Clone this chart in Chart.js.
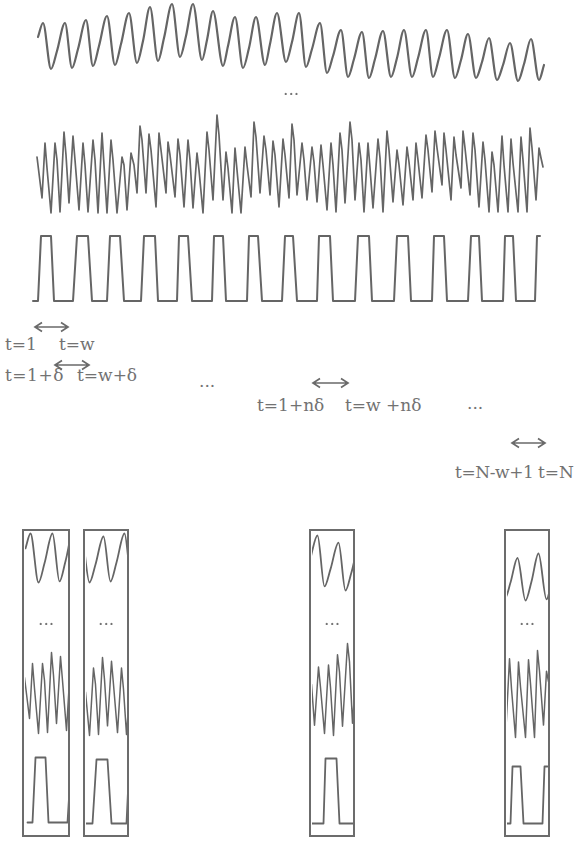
<!DOCTYPE html>
<html>
<head>
<meta charset="utf-8">
<script src="https://cdn.jsdelivr.net/npm/chart.js@4.4.1/dist/chart.umd.min.js"></script>
<style>
  body { margin: 0; background: #fff; }
  #page { position: relative; width: 579px; height: 841px; overflow: hidden; }
  #page canvas, .lbl, .box, #marks { position: absolute; }
  .lbl { font-family: 'DejaVu Serif'; font-size: 17px; line-height: 17px; color: #727272; white-space: pre; }
  .box { border: 2.5px solid #6c6c6c; box-sizing: border-box; }
</style>
</head>
<body>
<div id="page"></div>
<script>
// signals: [t, value], t in samples from the start of the recording
const topWave = [
  [5,48],[10,62],[18,16],[24,34],[32,62],[39,17],[45,36],[53,65],[60,19],[66,39],
  [74,69],[82,20],[88,41],[96,72],[104,22],[110,44],[117,78],[125,24],[131,47],[139,81],
  [147,28],[153,49],[160,81],[169,25],[174,45],[180,74],[190,19],[195,39],[202,68],[210,17],
  [216,37],[223,68],[232,20],[237,41],[244,72],[253,23],[259,43],[266,72],[273,18],[279,36],
  [287,62],[294,12],[300,29],[308,55],[315,8],[321,26],[329,53],[336,7],[342,26],[350,54],
  [358,8],[364,27],[371,55],[379,8],[385,27],[393,55],[400,8],[406,27],[414,55],[422,7],
  [428,25],[435,51],[443,7],[449,23],[456,47],[464,5],[470,20],[477,42],[485,4],[491,21],
  [498,46],[506,5],[511,20]
]

const noisyWave = [
  [4,63],[9,22],[12,77],[14,52],[18,7],[22,77],[24,60],[27,8],[31,88],[33,65],
  [36,17],[40,84],[42,60],[46,10],[50,77],[52,55],[55,8],[60,80],[62,60],[65,7],
  [69,87],[71,55],[74,7],[78,80],[80,60],[84,7],[89,63],[91,55],[94,10],[98,67],
  [101,55],[104,27],[107,94],[109,80],[113,27],[116,86],[118,70],[123,13],[126,87],[128,70],
  [133,27],[135,78],[137,65],[142,23],[145,81],[147,65],[151,13],[155,80],[157,60],[160,12],
  [164,67],[166,50],[170,7],[174,88],[176,70],[180,20],[184,105],[186,85],[190,20],[193,68],
  [195,52],[199,7],[202,72],[204,50],[208,7],[212,73],[214,55],[218,23],[221,98],[223,83],
  [227,27],[231,84],[233,70],[237,25],[240,79],[242,65],[246,13],[250,81],[252,65],[256,22],
  [259,96],[261,80],[264,25],[269,77],[271,60],[274,20],[279,73],[281,58],[284,18],[288,75],
  [290,55],[294,10],[298,77],[300,55],[303,8],[307,87],[309,70],[312,17],[317,98],[319,80],
  [322,20],[326,77],[328,60],[331,8],[335,77],[337,52],[340,12],[345,81],[347,62],[350,8],
  [354,89],[356,70],[360,18],[364,70],[366,55],[370,15],[374,73],[376,58],[380,20],[383,77],
  [385,60],[389,22],[393,85],[395,70],[399,28],[402,89],[404,72],[409,35],[411,87],[413,70],
  [418,20],[421,83],[423,65],[428,32],[430,89],[432,72],[437,25],[440,87],[442,70],[446,13],
  [450,78],[452,60],[456,8],[459,68],[461,55],[465,8],[469,84],[471,55],[475,8],[478,81],
  [480,57],[485,8],[488,83],[490,60],[494,8],[497,92],[499,72],[503,20],[506,72],[508,62],
  [510,53]
]

// on/off signal, 1 = high
const squareWave = [
  [0,0],[5,0],[8,1],[18,1],[21,0],[40,0],[44,1],[55,1],[59,0],[74,0],[77,1],[87,1],[91,0],
  [108,0],[111,1],[122,1],[125,0],[144,0],[146,1],[155,1],[159,0],[179,0],[181,1],[190,1],
  [193,0],[214,0],[216,1],[225,1],[229,0],[249,0],[252,1],[260,1],[264,0],[284,0],[286,1],
  [297,1],[300,0],[322,0],[325,1],[336,1],[339,0],[361,0],[364,1],[375,1],[378,0],[399,0],
  [401,1],[411,1],[414,0],[435,0],[438,1],[446,1],[449,0],[470,0],[472,1],[480,1],[483,0],
  [502,0],[504,1],[507,1]
]

// window labels
const windowLabels = ['t=1', 't=w', 't=1+δ', 't=w+δ', 't=1+nδ', 't=w +nδ', 't=N-w+1', 't=N']
const dots = '...'

const GREY = '#656565'
const page = document.getElementById('page')

function addCanvas(left, top, w, h) {
  const c = document.createElement('canvas')
  c.width = w; c.height = h
  c.style.left = left + 'px'; c.style.top = top + 'px'
  c.style.width = w + 'px'; c.style.height = h + 'px'
  page.appendChild(c)
  return c
}

function addLabel(text, left, baseline, spacing) {
  const d = document.createElement('div')
  d.className = 'lbl'
  d.textContent = text
  d.style.left = left + 'px'
  d.style.top = (baseline - 14.4) + 'px'
  if (spacing) d.style.letterSpacing = spacing + 'px'
  page.appendChild(d)
}

// series: [{data, smooth, xMin, xMax, yMin, yMax, width}]
function drawTraces(canvas, series) {
  const scales = {}
  const datasets = series.map((s, i) => {
    scales['x' + i] = { type: 'linear', display: false, min: s.xMin, max: s.xMax }
    scales['y' + i] = { type: 'linear', display: false, min: s.yMin, max: s.yMax }
    return {
      data: s.data.map(p => ({ x: p[0], y: p[1] })),
      xAxisID: 'x' + i,
      yAxisID: 'y' + i,
      borderColor: GREY,
      borderWidth: s.width,
      pointRadius: 0,
      fill: false,
      tension: 0,
      cubicInterpolationMode: s.smooth ? 'monotone' : 'default',
      borderJoinStyle: 'round',
      borderCapStyle: 'round',
      clip: 0
    }
  })
  new Chart(canvas, {
    type: 'line',
    data: { datasets },
    options: {
      responsive: false,
      animation: false,
      events: [],
      layout: { padding: 0 },
      plugins: { legend: { display: false }, tooltip: { enabled: false }, title: { display: false } },
      scales
    }
  })
}

// ---- full recordings ----
const T0 = -33, T1 = 546
drawTraces(addCanvas(0, 0, 579, 90), [{ data: topWave, smooth: true, xMin: T0, xMax: T1, yMin: -5, yMax: 85, width: 2.2 }])
drawTraces(addCanvas(0, 95, 579, 130), [{ data: noisyWave, xMin: T0, xMax: T1, yMin: -5, yMax: 125, width: 1.7 }])
drawTraces(addCanvas(0, 225, 579, 85), [{ data: squareWave, xMin: T0, xMax: T1, yMin: -0.1385, yMax: 1.1692, width: 2 }])

addLabel(dots, 283, 95)

// ---- window labels and arrows ----
addLabel(windowLabels[0], 5, 350)
addLabel(windowLabels[1], 59, 350)
addLabel(windowLabels[2], 5, 381, 0.5)
addLabel(windowLabels[3], 77, 381)
addLabel(dots, 199, 387)
addLabel(windowLabels[4], 257, 411)
addLabel(windowLabels[5], 345, 411)
addLabel(dots, 467, 409)
addLabel(windowLabels[6], 455, 478, -0.4)
addLabel(windowLabels[7], 538, 478)

const arrows = [[35, 68, 327], [55, 89, 365], [313, 348, 383], [512, 545, 443]]
const svgNS = 'http://www.w3.org/2000/svg'
const svg = document.createElementNS(svgNS, 'svg')
svg.setAttribute('id', 'marks')
svg.setAttribute('width', 579); svg.setAttribute('height', 841)
svg.style.left = '0px'; svg.style.top = '0px'
arrows.forEach(([a, b, y]) => {
  const path = document.createElementNS(svgNS, 'path')
  path.setAttribute('d', `M${a} ${y}H${b}M${a + 7} ${y - 4.5}L${a} ${y}L${a + 7} ${y + 4.5}M${b - 7} ${y - 4.5}L${b} ${y}L${b - 7} ${y + 4.5}`)
  path.setAttribute('fill', 'none')
  path.setAttribute('stroke', '#6a6a6a')
  path.setAttribute('stroke-width', '1.7')
  svg.appendChild(path)
})
page.appendChild(svg)

// ---- sliding windows ----
const BOX_TOP = 529, BOX_BOTTOM = 837, BORDER = 2.5
const boxes = [
  { left: 22, width: 48, from: 4.5, sqFrom: -2.5, top: [533, 582], noisy: [652, 733], sq: [757, 822] },
  { left: 83, width: 46, from: 14.5, sqFrom: 33.5, top: [533, 582], noisy: [657, 735], sq: [759, 823] },
  { left: 309, width: 46, from: 281.5, sqFrom: 272.5, top: [535, 590], noisy: [643, 735], sq: [758, 823] },
  { left: 504, width: 46, from: 466.5, sqFrom: 466.5, top: [553, 600], noisy: [650, 737], sq: [766, 823] }
]

function bandAxis(lo, hi, band, cTop, cH) {
  // value hi sits on band[0] (upper edge), lo on band[1]
  const b0 = band[0] - cTop, b1 = band[1] - cTop
  const k = (hi - lo) / (b1 - b0)
  return { yMin: hi - (cH - b0) * k, yMax: hi + b0 * k }
}

function rangeIn(data, a, b) {
  const vals = data.filter(p => p[0] >= a && p[0] <= b).map(p => p[1])
  return [Math.min(...vals), Math.max(...vals)]
}

boxes.forEach(bx => {
  const d = document.createElement('div')
  d.className = 'box'
  d.style.left = bx.left + 'px'; d.style.top = BOX_TOP + 'px'
  d.style.width = bx.width + 'px'; d.style.height = (BOX_BOTTOM - BOX_TOP) + 'px'
  page.appendChild(d)

  const cLeft = bx.left + BORDER, cTop = BOX_TOP + BORDER
  const cW = Math.round(bx.width - 2 * BORDER), cH = Math.round(BOX_BOTTOM - BOX_TOP - 2 * BORDER)
  const c = addCanvas(cLeft, cTop, cW, cH)
  const tr = rangeIn(topWave, bx.from, bx.from + cW)
  const nr = rangeIn(noisyWave, bx.from, bx.from + cW)
  drawTraces(c, [
    Object.assign({ data: topWave, smooth: true, xMin: bx.from, xMax: bx.from + cW, width: 1.8 }, bandAxis(tr[0], tr[1], bx.top, cTop, cH)),
    Object.assign({ data: noisyWave, xMin: bx.from, xMax: bx.from + cW, width: 1.5 }, bandAxis(nr[0], nr[1], bx.noisy, cTop, cH)),
    Object.assign({ data: squareWave, xMin: bx.sqFrom, xMax: bx.sqFrom + cW, width: 1.8 }, bandAxis(0, 1, bx.sq, cTop, cH))
  ])
  addLabel(dots, bx.left + bx.width / 2 - 8, 625)
})
</script>
</body>
</html>
